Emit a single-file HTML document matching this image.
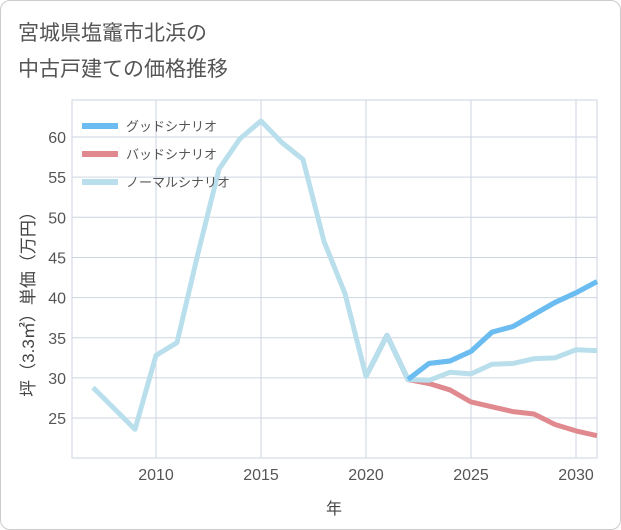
<!DOCTYPE html>
<html><head><meta charset="utf-8"><style>
body{margin:0;background:#fff;font-family:"Liberation Sans","Noto Sans CJK JP",sans-serif;}
#wrap{position:relative;width:619px;height:528px;border:1px solid #ccc;border-radius:10px;overflow:hidden;}
</style></head><body>
<div id="wrap">
<svg id="chart" width="621" height="530" style="position:absolute;left:-1px;top:-1px">
<text x="18" y="40" font-size="21" fill="#555">宮城県塩竈市北浜の</text>
<text x="18" y="76" font-size="21" fill="#555">中古戸建ての価格推移</text>
<g id="grid"></g><g id="series"></g><g id="legend"></g>
<text transform="translate(34,300) rotate(-90)" text-anchor="middle" font-size="17" fill="#444">坪（3.3㎡）単価（万円）</text>
<text x="334" y="514" text-anchor="middle" font-size="16" fill="#444">年</text>
</svg></div>
<script>
const years=[2007,2008,2009,2010,2011,2012,2013,2014,2015,2016,2017,2018,2019,2020,2021,2022,2023,2024,2025,2026,2027,2028,2029,2030,2031];
const normal=[28.8,26.2,23.6,32.8,34.4,45.5,56,59.8,62,59.3,57.2,47,40.5,30.2,35.3,29.8,29.7,30.7,30.5,31.7,31.8,32.4,32.5,33.5,33.4];
const futureYears=[2020,2021,2022,2023,2024,2025,2026,2027,2028,2029,2030,2031];
const good=[30.2,35.3,29.8,31.8,32.1,33.3,35.7,36.4,37.9,39.4,40.6,42];
const bad=[30.2,35.3,29.8,29.3,28.5,27.0,26.4,25.8,25.5,24.2,23.4,22.8];
const yTicks=[25,30,35,40,45,50,55,60];
const xTicks=[2010,2015,2020,2025,2030];
const L=72,R=597,T=100,B=458;
const x=v=>156+(v-2010)*21;
const y=v=>137+(60-v)*8.03;
const NS="http://www.w3.org/2000/svg";
function mk(t,a,p){const e=document.createElementNS(NS,t);for(const k in a)e.setAttribute(k,a[k]);p.appendChild(e);return e;}
const g=document.getElementById('grid');
mk('rect',{x:L,y:T,width:R-L,height:B-T,fill:'none',stroke:'#cdd6e0'},g);
yTicks.forEach(v=>{const l=mk('line',{x1:L,x2:R,y1:y(v),y2:y(v),stroke:'#cdd6e0'},g);


const t=mk('text',{x:L-6,y:y(v)+6,'text-anchor':'end','font-size':16,fill:'#555'},g);t.textContent=v;

});
xTicks.forEach(v=>{const l=mk('line',{x1:x(v),x2:x(v),y1:T,y2:B,stroke:'#cdd6e0'},g);


const t=mk('text',{x:x(v),y:B+22,'text-anchor':'middle','font-size':16,fill:'#555'},g);t.textContent=v;

});
const s=document.getElementById('series');
function line(xs,vs,c,n){const p=mk('polyline',{points:xs.map((d,i)=>x(d)+','+y(vs[i])).join(' '),fill:'none',stroke:c,'stroke-width':5,'stroke-linejoin':'round'},s);

}
line(futureYears,bad,'#e08a90','bad-scenario-line');
line(futureYears,good,'#6bbcf0','good-scenario-line');
line(years,normal,'#b9dfec','normal-scenario-line');
line(futureYears.slice(2),good.slice(2),'#6bbcf0','good-scenario-line-front');
const lg=document.getElementById('legend');
[['グッドシナリオ','#6bbcf0'],['バッドシナリオ','#e08a90'],['ノーマルシナリオ','#b9dfec']].forEach((d,i)=>{
const yy=126+i*28;
const l=mk('line',{x1:82,x2:118,y1:yy,y2:yy,stroke:d[1],'stroke-width':6},lg);


const t=mk('text',{x:126,y:yy+5,'font-size':13,fill:'#555'},lg);t.textContent=d[0];

});
</script>
</body></html>
